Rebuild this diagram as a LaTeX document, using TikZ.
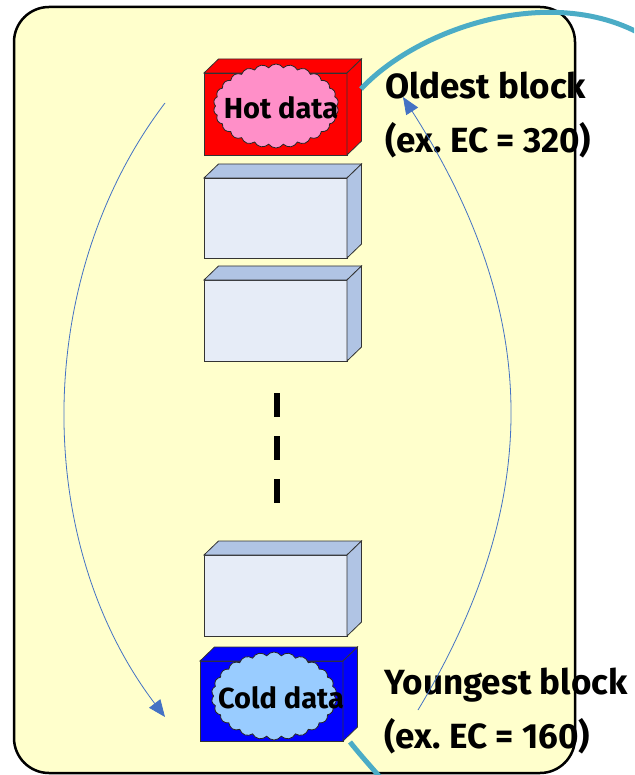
\documentclass[tikz,border=0pt]{standalone}
\usepackage{fontspec}
\setmainfont{Fira Sans}
\usetikzlibrary{shapes.symbols,arrows.meta}
\definecolor{paper}{HTML}{FFFFCC}
\definecolor{slabface}{HTML}{E6ECF7}
\definecolor{slabtop}{HTML}{B0C4E4}
\definecolor{hotred}{HTML}{FF0000}
\definecolor{coldblue}{HTML}{0000FF}
\definecolor{hotpuff}{HTML}{FF8FC8}
\definecolor{coldpuff}{HTML}{99CCFF}
\definecolor{flowblue}{HTML}{4472C4}
\definecolor{ribbonteal}{HTML}{4BACC6}
\tikzset{
  face/.style={draw=black!80, line width=0.8pt},
  front/.style={face, fill=#1, minimum width=143pt, inner sep=0pt, outer sep=0pt},
  puff/.style={cloud, cloud puffs=26, cloud puff arc=110, cloud ignores aspect,
    draw=black!85, line width=0.8pt, fill=#1, minimum width=125pt,
    minimum height=84pt, inner sep=0pt},
  tag/.style={font=\fontsize{29}{32}\selectfont\bfseries, inner sep=0pt},
  caption/.style={font=\fontsize{35}{54}\selectfont\bfseries\frenchspacing,
    anchor=base west, inner sep=0pt, align=left},
  flow/.style={draw=flowblue, line width=0.8pt, -{Triangle[length=17pt,width=14pt]}},
  ribbon/.style={draw=ribbonteal, line width=5pt},
}
% one erase-block drawn as a slab: name, centre, face colour, top/side colour, height
\newcommand\slab[5]{%
  \node[front=#3, minimum height=#5] (#1) at #2 {};
  \draw[face, fill=#4] (#1.north west) -- ++(14.5,-14)
    -- ([shift={(14.5,-14)}]#1.north east) -- (#1.north east) -- cycle;
  \draw[face, fill=#4] (#1.north east) -- ++(14.5,-14)
    -- ([shift={(14.5,-14)}]#1.south east) -- (#1.south east) -- cycle;
}
\begin{document}
\begin{tikzpicture}[x=1pt,y=-1pt]
\useasboundingbox (0,0) rectangle (634,775);
\clip (0,0) rectangle (634,775);

% background panel
\node[fill=paper, rounded corners=35pt, minimum width=561pt, minimum height=766pt,
  inner sep=0pt, outer sep=0pt] (frame) at (294.5,390) {};

% blocks, oldest at the top
\slab{hot}{(275.5,114)}{hotred}{hotred}{82pt}
\slab{blkA}{(275.5,218)}{slabface}{slabtop}{80pt}
\slab{blkB}{(275.5,320.5)}{slabface}{slabtop}{81pt}
\slab{blkC}{(275.5,595.5)}{slabface}{slabtop}{81pt}
\slab{cold}{(271.5,701)}{coldblue}{coldblue}{80pt}

% data clouds
\node[puff=hotpuff] (hotcloud) at (276,106) {};
\node[tag] (hottext) at (281,108) {Hot data};
\node[puff=coldpuff, minimum height=88pt] (coldcloud) at (274,696) {};
\node[tag] (coldtext) at (281,698) {Cold data};

% elided blocks
\coordinate (dtop) at (277,393);
\coordinate (dbot) at (277,503);
\draw[line width=6pt, dash pattern=on 24pt off 19pt] (dtop) -- (dbot);

% captions (anchored on the baseline of their second line)
\node[caption] (oldest) at (385,153) {Oldest block\\(ex. EC = 320)};
\node[caption] (youngest) at (384,748) {Youngest block\\(ex. EC = 160)};

% panel outline
\draw[line width=2.5pt, rounded corners=35pt] (frame.north west) rectangle (frame.south east);

% circulation arrows
\coordinate (lstart) at (165,103);
\coordinate (lend) at (165,717);
\coordinate (rstart) at (418,710);
\coordinate (rend) at (403,97);
\draw[flow] (lstart) .. controls (32,278) and (32,542) .. (lend);
\draw[flow] (rstart) .. controls (543,502) and (543,316) .. (rend);

% outer links
\coordinate (hotside) at (361,89);
\coordinate (topexit) at (680,64);
\coordinate (coldside) at (350,742);
\coordinate (botexit) at (386,784);
\draw[ribbon] (hotside) .. controls (425,20) and (590,-30) .. (topexit);
\draw[ribbon] (coldside) .. controls (362,757) and (373,769) .. (botexit);
\end{tikzpicture}
\end{document}
